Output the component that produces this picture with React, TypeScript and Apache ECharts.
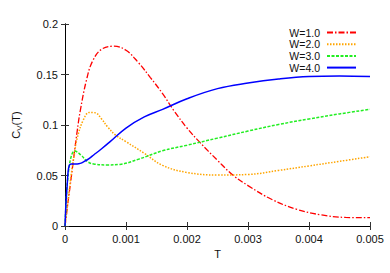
import React, { useEffect, useRef } from "react";
import * as echarts from "echarts";

const seriesNames = ["W=1.0", "W=2.0", "W=3.0", "W=4.0"];
const colors = ["#ff0000", "#ffa500", "#22ee22", "#0000ff"];

const t1 = [0, 0.00005, 0.0001, 0.00015, 0.0002, 0.00025, 0.00035, 0.00045, 0.0006, 0.0008, 0.001, 0.0012, 0.0014, 0.0016, 0.0018, 0.002, 0.0022, 0.0025, 0.00275, 0.003, 0.0034, 0.0038, 0.0042, 0.0046, 0.005];
const c1 = [0, 0.024, 0.047, 0.071, 0.094, 0.114, 0.144, 0.163, 0.175, 0.178, 0.174, 0.162, 0.147, 0.131, 0.113, 0.097, 0.0835, 0.065, 0.0505, 0.040, 0.026, 0.0165, 0.011, 0.0085, 0.0082];

const t2 = [0, 0.00005, 0.0001, 0.00015, 0.0002, 0.0003, 0.0004, 0.0005, 0.0006, 0.0007, 0.00083, 0.001, 0.0013, 0.0016, 0.002, 0.0025, 0.003, 0.0035, 0.004, 0.0045, 0.005];
const c2 = [0, 0.025, 0.05, 0.07, 0.087, 0.105, 0.1125, 0.112, 0.106, 0.098, 0.09, 0.0835, 0.072, 0.06, 0.053, 0.0505, 0.051, 0.055, 0.0595, 0.064, 0.0686];

const t3 = [0, 0.00002, 0.000043, 0.0001, 0.00016, 0.00026, 0.00037, 0.00047, 0.0007, 0.0009, 0.0012, 0.0016, 0.002, 0.0025, 0.003, 0.0035, 0.004, 0.0045, 0.005];
const c3 = [0, 0.025, 0.0455, 0.0686, 0.0742, 0.0703, 0.0637, 0.0614, 0.0605, 0.061, 0.066, 0.0745, 0.08, 0.087, 0.094, 0.1005, 0.106, 0.111, 0.1155];

const t4 = [0, 0.00001, 0.00002, 0.000035, 0.00005, 0.00007, 0.0001, 0.00015, 0.0002, 0.00025, 0.00031, 0.0004, 0.00047, 0.0006, 0.00074, 0.001, 0.0013, 0.0016, 0.002, 0.0025, 0.003, 0.0035, 0.004, 0.0045, 0.005];
const c4 = [0, 0.015, 0.027, 0.04, 0.053, 0.06, 0.0615, 0.0615, 0.0615, 0.062, 0.0637, 0.067, 0.0703, 0.0765, 0.0835, 0.097, 0.108, 0.1155, 0.126, 0.136, 0.1415, 0.1455, 0.148, 0.1485, 0.148];

const xTicks = ["0", "0.001", "0.002", "0.003", "0.004", "0.005"];
const yTicks = ["0", "0.05", "0.1", "0.15", "0.2"];

const allT = [t1, t2, t3, t4];
const allC = [c1, c2, c3, c4];
const dashes: any[] = [[6, 2, 1.5, 2], [1.5, 1.5], [3, 1.5], "solid"];
const widths = [1.3, 1.5, 1.5, 1.5];

export default function App() {
  const ref = useRef<HTMLDivElement>(null);
  useEffect(() => {
    const chart = echarts.init(ref.current!, null, { renderer: "svg" });
    const font = "Liberation Sans, Arial, sans-serif";
    const tickStyle = { show: true, inside: true, length: 4, lineStyle: { color: "#333", width: 1 } };
    const lineAxis = { show: true, lineStyle: { color: "#000", width: 1 } };
    chart.setOption({
      animation: false,
      textStyle: { fontFamily: font },
      grid: { left: 60, right: 20, top: 24, bottom: 47, containLabel: false },
      legend: {
        orient: "vertical",
        right: 28,
        top: 22,
        align: "right",
        itemWidth: 29,
        itemHeight: 8,
        itemGap: 0.7,
        itemStyle: { opacity: 0 },
        textStyle: { fontSize: 10.5, lineHeight: 10, color: "#111", fontFamily: font, padding: [0, 2, 0, 0] },
        data: seriesNames,
      },
      xAxis: [
        {
          type: "value",
          min: 0,
          max: 0.005,
          interval: 0.001,
          name: "T",
          nameLocation: "middle",
          nameGap: 19,
          nameTextStyle: { fontSize: 11, color: "#111" },
          axisLine: lineAxis,
          axisTick: tickStyle,
          splitLine: { show: false },
          axisLabel: {
            fontSize: 11,
            color: "#111",
            margin: 7,
            formatter: (v: number) => xTicks[Math.round(v / 0.001)] ?? "",
          },
        },
        {
          type: "value",
          position: "top",
          min: 0,
          max: 0.005,
          interval: 0.001,
          axisLine: lineAxis,
          axisTick: tickStyle,
          axisLabel: { show: false },
          splitLine: { show: false },
        },
      ],
      yAxis: [
        {
          type: "value",
          min: 0,
          max: 0.2,
          interval: 0.05,
          name: "{a|C}{b|V}{a|(T)}",
          nameLocation: "middle",
          nameGap: 42,
          nameRotate: 90,
          nameTextStyle: {
            color: "#111",
            rich: {
              a: { fontSize: 11, lineHeight: 14, color: "#111", fontFamily: font },
              b: { fontSize: 8, lineHeight: 8, padding: [7, 0, 0, 0], verticalAlign: "bottom", color: "#111", fontFamily: font },
            },
          },
          axisLine: lineAxis,
          axisTick: tickStyle,
          splitLine: { show: false },
          axisLabel: {
            fontSize: 11,
            color: "#111",
            margin: 7,
            formatter: (v: number) => yTicks[Math.round(v / 0.05)] ?? "",
          },
        },
        {
          type: "value",
          position: "right",
          min: 0,
          max: 0.2,
          interval: 0.05,
          axisLine: lineAxis,
          axisTick: tickStyle,
          axisLabel: { show: false },
          splitLine: { show: false },
        },
      ],
      series: seriesNames.map((name, i) => ({
        name,
        type: "line",
        xAxisIndex: 0,
        yAxisIndex: 0,
        data: allT[i].map((t, j) => [t, allC[i][j]]),
        smooth: 0.4,
        symbol: "none",
        showSymbol: false,
        color: colors[i],
        lineStyle: { color: colors[i], width: widths[i], type: dashes[i] },
        z: 2 + i,
      })),
    });
    return () => chart.dispose();
  }, []);
  return <div ref={ref} style={{ width: 390, height: 273, position: "absolute", left: 0, top: 0 }} />;
}
